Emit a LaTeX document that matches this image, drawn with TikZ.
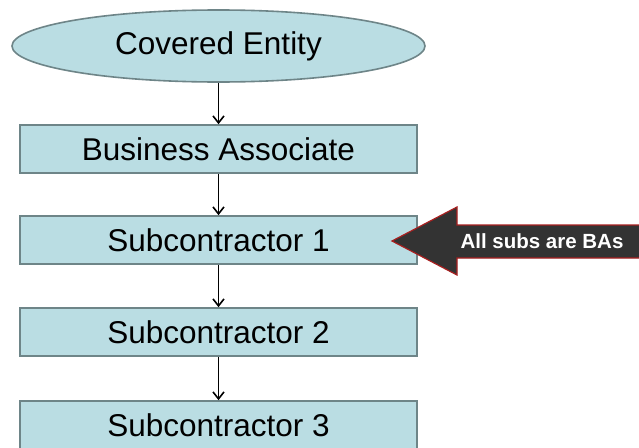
\documentclass[tikz,border=0pt]{standalone}
\usepackage{fontspec}
\setmainfont{Liberation Sans}
\usetikzlibrary{shapes.geometric,arrows.meta}
\definecolor{boxfill}{HTML}{BADDE3}
\definecolor{boxline}{HTML}{6E8588}
\definecolor{arrowfill}{HTML}{333333}
\definecolor{arrowline}{HTML}{A82020}
\tikzset{
  flowbox/.style={draw=boxline, line width=1.6pt, fill=boxfill, minimum width=397pt, minimum height=48pt, inner sep=0pt, font=\fontsize{31.5}{36}\selectfont},
  flowell/.style={ellipse, draw=boxline, line width=1.6pt, fill=boxfill, minimum width=413pt, minimum height=72pt, inner sep=0pt, font=\fontsize{31.5}{36}\selectfont},
  conn/.style={draw=black, line width=1.8pt, -{Straight Barb[length=7pt,width=11pt,line width=1.6pt]}},
}
\begin{document}
\begin{tikzpicture}[x=1pt,y=-1pt]
\clip (0,0) rectangle (639,447);
\fill[white] (0,0) rectangle (639,447);
\node[flowell] (ce) at (218.5,46) {Covered Entity};
\node[flowbox] (ba) at (218.5,149) {Business Associate};
\node[flowbox] (s1) at (218.5,240) {Subcontractor 1};
\node[flowbox] (s2) at (218.5,332) {Subcontractor 2};
\node[flowbox] (s3) at (218.5,425) {Subcontractor 3};
\draw[conn] (ce.south) -- (ba.north);
\draw[conn] (ba.south) -- (s1.north);
\draw[conn] (s1.south) -- (s2.north);
\draw[conn] (s2.south) -- (s3.north);
\draw[fill=arrowfill, draw=arrowline, line width=1.2pt, line join=miter]
  (392,241) -- (457,207) -- (457,225) -- (645,225) -- (645,258) -- (457,258) -- (457,275) -- cycle;
\node[text=white, font=\bfseries\fontsize{20.5}{24}\selectfont, inner sep=0pt] (lbl) at (542,241) {All subs are BAs};
\end{tikzpicture}
\end{document}
